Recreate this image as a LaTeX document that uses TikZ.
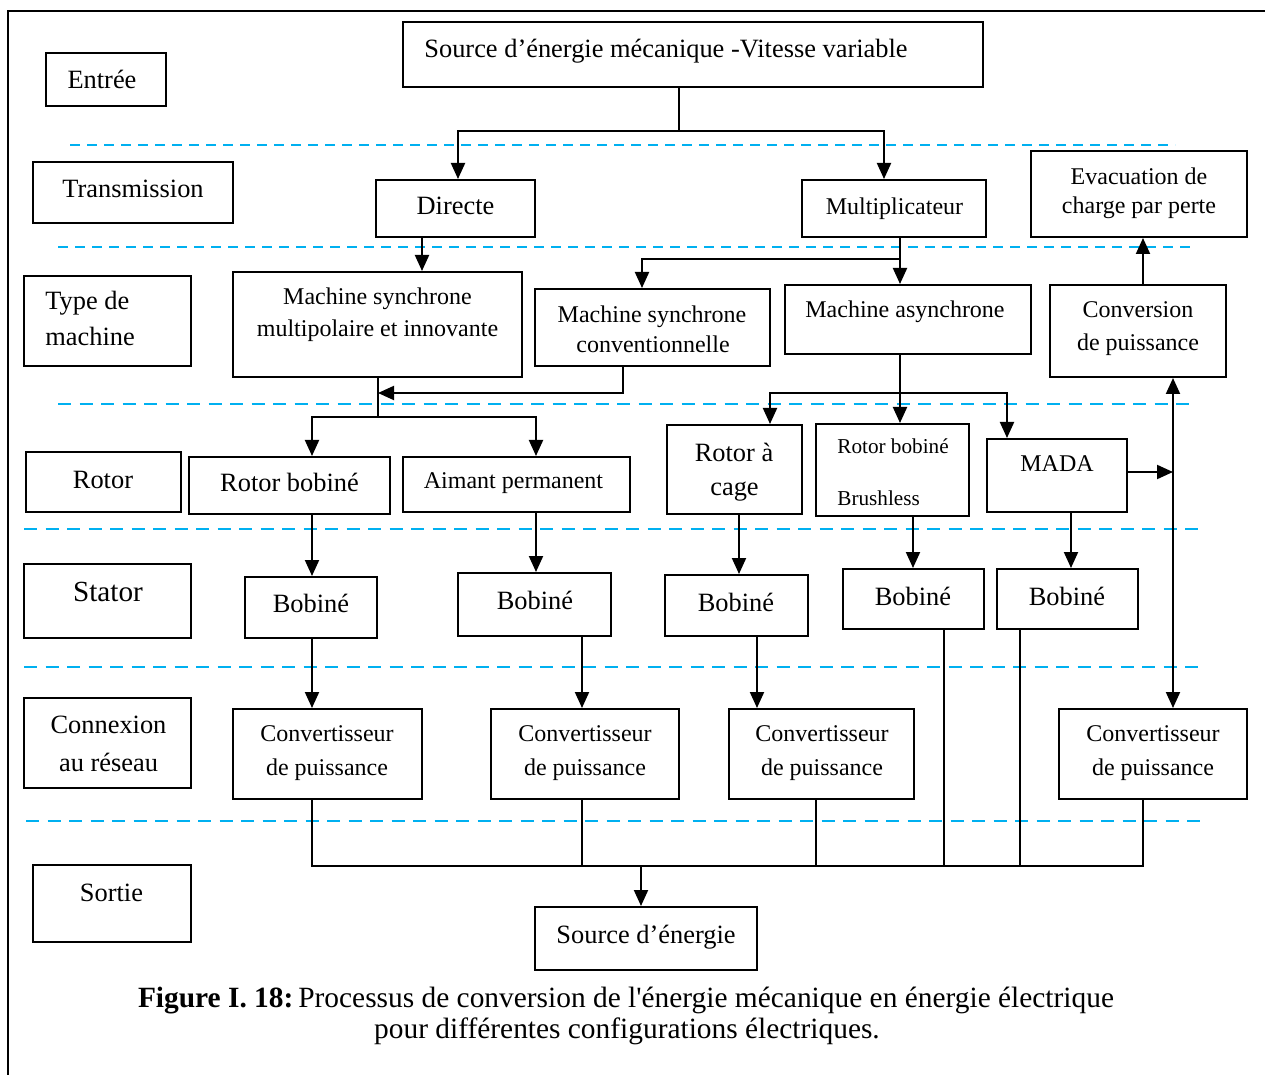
\documentclass[tikz,border=0pt]{standalone}
\usepackage{fontspec}
\setmainfont{Liberation Serif}
\usetikzlibrary{arrows.meta,fit}
\definecolor{dcyan}{RGB}{0,176,240}
\tikzset{
  box/.style={draw, line width=1pt, inner sep=0pt},
  t/.style={anchor=base, inner sep=0pt, font=\fontsize{13.2}{16}\selectfont},
  s/.style={anchor=base, inner sep=0pt, font=\fontsize{12}{15}\selectfont},
  ln/.style={line width=1pt},
  bl/.style={line width=0.75pt},
  ar/.style={line width=1pt, -{Triangle[length=8pt,width=7pt]}},
  dar/.style={line width=1pt, {Triangle[length=8pt,width=7pt]}-{Triangle[length=8pt,width=7pt]}},
  dla/.style={draw=dcyan, line width=1pt, dash pattern=on 5pt off 3.5pt},
  dlb/.style={draw=dcyan, line width=1pt, dash pattern=on 6.5pt off 4.25pt}
}
\begin{document}
\begin{tikzpicture}[x=0.5pt,y=-0.5pt]
\useasboundingbox (0,0) rectangle (1265,1075);
% frame
\draw[line width=1pt] (8,1075) -- (8,11) -- (1265,11);
% dashed separators
\draw[dla] (70,145) -- (1175,145);
\draw[dla] (58,247) -- (1190,247);
\draw[dlb] (58,404) -- (1197,404);
\draw[dlb] (24,529) -- (1201,529);
\draw[dlb] (24,667) -- (1201,667);
\draw[dlb] (26,821) -- (1208,821);
% boxes
\node[box, fit={(46,53) (166,106)}] (entree) {};
\node[box, fit={(403,22) (983,87)}] (src) {};
\node[box, fit={(33,162) (233,223)}] (trans) {};
\node[box, fit={(376,180) (535,237)}] (dir) {};
\node[box, fit={(802,180) (986,237)}] (mult) {};
\node[box, fit={(1031,151) (1247,237)}] (evac) {};
\node[box, fit={(24,276) (191,366)}] (typ) {};
\node[box, fit={(233,272) (522,377)}] (msm) {};
\node[box, fit={(535,289) (770,366)}] (msc) {};
\node[box, fit={(785,285) (1031,354)}] (mas) {};
\node[box, fit={(1050,285) (1226,377)}] (conv0) {};
\node[box, fit={(26,452) (181,512)}] (rotor) {};
\node[box, fit={(189,457) (390,514)}] (rb) {};
\node[box, fit={(403,457) (630,512)}] (aim) {};
\node[box, fit={(667,425) (802,514)}] (rcage) {};
\node[box, fit={(816,424) (969,516)}] (rbb) {};
\node[box, fit={(987,439) (1127,512)}] (mada) {};
\node[box, fit={(24,564) (191,638)}] (stator) {};
\node[box, fit={(245,577) (377,638)}] (b1) {};
\node[box, fit={(458,573) (611,636)}] (b2) {};
\node[box, fit={(665,575) (808,636)}] (b3) {};
\node[box, fit={(843,569) (984,629)}] (b4) {};
\node[box, fit={(997,569) (1138,629)}] (b5) {};
\node[box, fit={(24,698) (191,788)}] (conn) {};
\node[box, fit={(233,709) (422,799)}] (c1) {};
\node[box, fit={(491,709) (679,799)}] (c2) {};
\node[box, fit={(729,709) (914,799)}] (c3) {};
\node[box, fit={(1059,709) (1247,799)}] (c4) {};
\node[box, fit={(33,865) (191,942)}] (sortie) {};
\node[box, fit={(535,907) (757,970)}] (out) {};
% texts
\node[t] (tentree) at (102,89) {Entrée};
\node[t, anchor=base west] (tsrc) at (424,58) {Source d’énergie mécanique -Vitesse variable};
\node[t] (ttrans) at (133,198) {Transmission};
\node[t] (tdir) at (455.5,215) {Directe};
\node[s] (tmult) at (894.5,215) {Multiplicateur};
\node[s] (tevac1) at (1139,185) {Evacuation de};
\node[s] (tevac2) at (1139,214) {charge par perte};
\node[t, anchor=base west] (ttyp1) at (45,310) {Type de};
\node[t, anchor=base west] (ttyp2) at (45,346) {machine};
\node[s] (tmsm1) at (377.5,305) {Machine synchrone};
\node[s] (tmsm2) at (377.5,337) {multipolaire et innovante};
\node[s] (tmsc1) at (652,323) {Machine synchrone};
\node[s] (tmsc2) at (653,353) {conventionnelle};
\node[s] (tmas) at (905,318) {Machine asynchrone};
\node[s] (tconv1) at (1138,318) {Conversion};
\node[s] (tconv2) at (1138,351) {de puissance};
\node[t] (trotor) at (103,488) {Rotor};
\node[t] (trb) at (289.5,491) {Rotor bobiné};
\node[s] (taim) at (513.5,488) {Aimant permanent};
\node[t] (trc1) at (734,462) {Rotor à};
\node[t] (trc2) at (734.5,495) {cage};
\node[anchor=base west, inner sep=0pt, font=\fontsize{10.6}{13}\selectfont] (trbb1) at (837,454) {Rotor bobiné};
\node[anchor=base west, inner sep=0pt, font=\fontsize{10.6}{13}\selectfont] (trbb2) at (837,505) {Brushless};
\node[s] (tmada) at (1057,472) {MADA};
\node[anchor=base, inner sep=0pt, font=\fontsize{14.6}{17}\selectfont] (tstator) at (108,601) {Stator};
\node[t] (tb1) at (311,612) {Bobiné};
\node[t] (tb2) at (535,609) {Bobiné};
\node[t] (tb3) at (736,611) {Bobiné};
\node[t] (tb4) at (913,605) {Bobiné};
\node[t] (tb5) at (1067,605) {Bobiné};
\node[t] (tconn1) at (108.5,733) {Connexion};
\node[t] (tconn2) at (108.5,771) {au réseau};
\node[s] (tc1a) at (327,741) {Convertisseur};
\node[s] (tc1b) at (327,775) {de puissance};
\node[s] (tc2a) at (585,741) {Convertisseur};
\node[s] (tc2b) at (585,775) {de puissance};
\node[s] (tc3a) at (822,741) {Convertisseur};
\node[s] (tc3b) at (822,775) {de puissance};
\node[s] (tc4a) at (1153,741) {Convertisseur};
\node[s] (tc4b) at (1153,775) {de puissance};
\node[t] (tsortie) at (111.5,901) {Sortie};
\node[t] (tout) at (646,943) {Source d’énergie};
\node[anchor=base, inner sep=0pt, font=\fontsize{14.7}{18}\selectfont] (cap1) at (626,1007) {\textbf{Figure I. 18:}\,Processus de conversion de l\textquotesingle énergie mécanique en énergie électrique};
\node[anchor=base, inner sep=0pt, font=\fontsize{14.7}{18}\selectfont] (cap2) at (627,1038) {pour différentes configurations électriques.};
% junctions
\coordinate (j1) at (679,131);
\coordinate (j2) at (900,259);
\coordinate (j3) at (378,393);
\coordinate (j4) at (378,417);
\coordinate (j5) at (900,393);
\coordinate (j6) at (1173,472);
\coordinate (bus) at (641,866);
% connectors
\draw[ln] (src.south -| j1) -- (j1);
\draw[ar] (j1) -| (dir.north -| 458,0);
\draw[ar] (j1) -| (mult.north -| 884,0);
\draw[ar] (dir.south -| 422,0) -- (msm.north -| 422,0);
\draw[ar] (mult.south -| j2) -- (mas.north -| j2);
\draw[ar] (j2) -| (msc.north -| 642,0);
\draw[ar] (msc.south -| 623,0) |- (j3);
\draw[ln] (msm.south -| j4) -- (j4);
\draw[ar] (j4) -| (rb.north -| 312,0);
\draw[ar] (j4) -| (aim.north -| 536,0);
\draw[ar] (mas.south -| j5) -- (rbb.north -| j5);
\draw[ar] (j5) -| (rcage.north -| 770,0);
\draw[ar] (j5) -| (mada.north -| 1007,0);
\draw[ar] (mada.east |- j6) -- (j6);
\draw[dar] (conv0.south -| j6) -- (c4.north -| j6);
\draw[ar] (conv0.north -| 1143,0) -- (evac.south -| 1143,0);
\draw[ar] (rb.south -| 312,0) -- (b1.north -| 312,0);
\draw[ar] (aim.south -| 536,0) -- (b2.north -| 536,0);
\draw[ar] (rcage.south -| 739,0) -- (b3.north -| 739,0);
\draw[ar] (rbb.south -| 913,0) -- (b4.north -| 913,0);
\draw[ar] (mada.south -| 1071,0) -- (b5.north -| 1071,0);
\draw[ar] (b1.south -| 312,0) -- (c1.north -| 312,0);
\draw[ar] (b2.south -| 582,0) -- (c2.north -| 582,0);
\draw[ar] (b3.south -| 757,0) -- (c3.north -| 757,0);
\draw[bl] (c1.south -| 312,0) |- (bus -| 1143,0) -- (c4.south -| 1143,0);
\draw[bl] (c2.south -| 582,0) -- (bus -| 582,0);
\draw[bl] (c3.south -| 816,0) -- (bus -| 816,0);
\draw[bl] (b4.south -| 944,0) -- (bus -| 944,0);
\draw[bl] (b5.south -| 1020,0) -- (bus -| 1020,0);
\draw[ar] (bus) -- (out.north -| bus);
\end{tikzpicture}
\end{document}
